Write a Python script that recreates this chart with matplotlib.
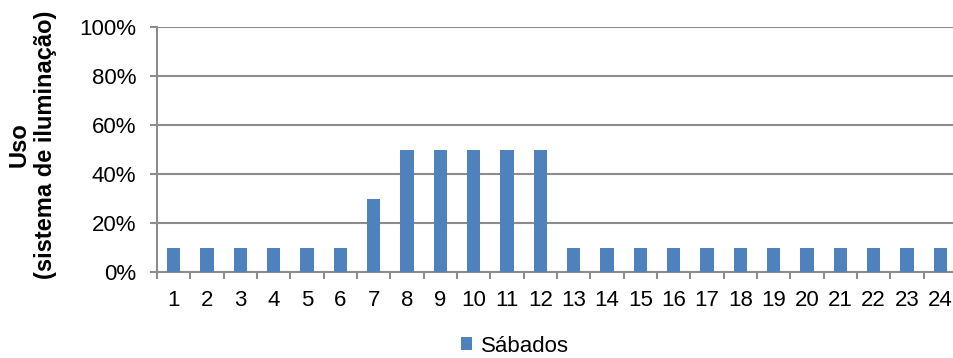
import matplotlib
matplotlib.use("Agg")
import matplotlib.pyplot as plt
from matplotlib.ticker import PercentFormatter

plt.rcParams['font.family'] = ['Liberation Sans', 'DejaVu Sans']

hours = [str(h) for h in range(1, 25)]
usage_sabados = [10, 10, 10, 10, 10, 10, 30, 50, 50, 50, 50, 50,
                 10, 10, 10, 10, 10, 10, 10, 10, 10, 10, 10, 10]
series_name = "Sábados"
y_ticks = [0, 20, 40, 60, 80, 100]

bar_color = "#4F81BD"
grid_color = "#8C8C8C"

fig = plt.figure(figsize=(9.54, 3.58), dpi=100)
ax = fig.add_axes([157 / 954, 1 - 272 / 358, 800 / 954, (272 - 27) / 358])

x = list(range(len(hours)))
ax.bar(x, usage_sabados, width=0.4, color=bar_color, zorder=3,
       label=series_name)

ax.set_xlim(-0.5, len(hours) - 0.5)
ax.set_ylim(0, 100)
ax.set_yticks(y_ticks)
ax.yaxis.set_major_formatter(PercentFormatter(decimals=0))
ax.set_xticks(x)
ax.set_xticklabels(hours)
ax.set_xticks([i - 0.5 for i in range(len(hours) + 1)], minor=True)

ax.grid(axis='y', color=grid_color, linewidth=1.5, zorder=0)
for side in ['top', 'right']:
    ax.spines[side].set_visible(False)
for side in ['left', 'bottom']:
    ax.spines[side].set_color(grid_color)
    ax.spines[side].set_linewidth(1.5)

ax.tick_params(axis='x', which='major', length=0, pad=13, labelsize=16)
ax.tick_params(axis='x', which='minor', length=5, width=1.5, color=grid_color)
ax.tick_params(axis='y', length=5, width=1.5, color=grid_color, pad=10,
               labelsize=16)

ax.set_ylabel("Uso\n(sistema de iluminação)", fontsize=17, fontweight='bold',
              linespacing=1.2)
ax.yaxis.set_label_coords(-0.125, 0.52)

fig.text(0.555, 1.0, series_name, ha='center', va='bottom', fontsize=16,
         fontweight='bold', color='#404040')

fig.legend(loc='center', bbox_to_anchor=(0.54, 1 - 346 / 358), frameon=False,
           fontsize=16, handlelength=0.5, handleheight=0.5, handletextpad=0.4)

fig.savefig("out.png", dpi=100)
